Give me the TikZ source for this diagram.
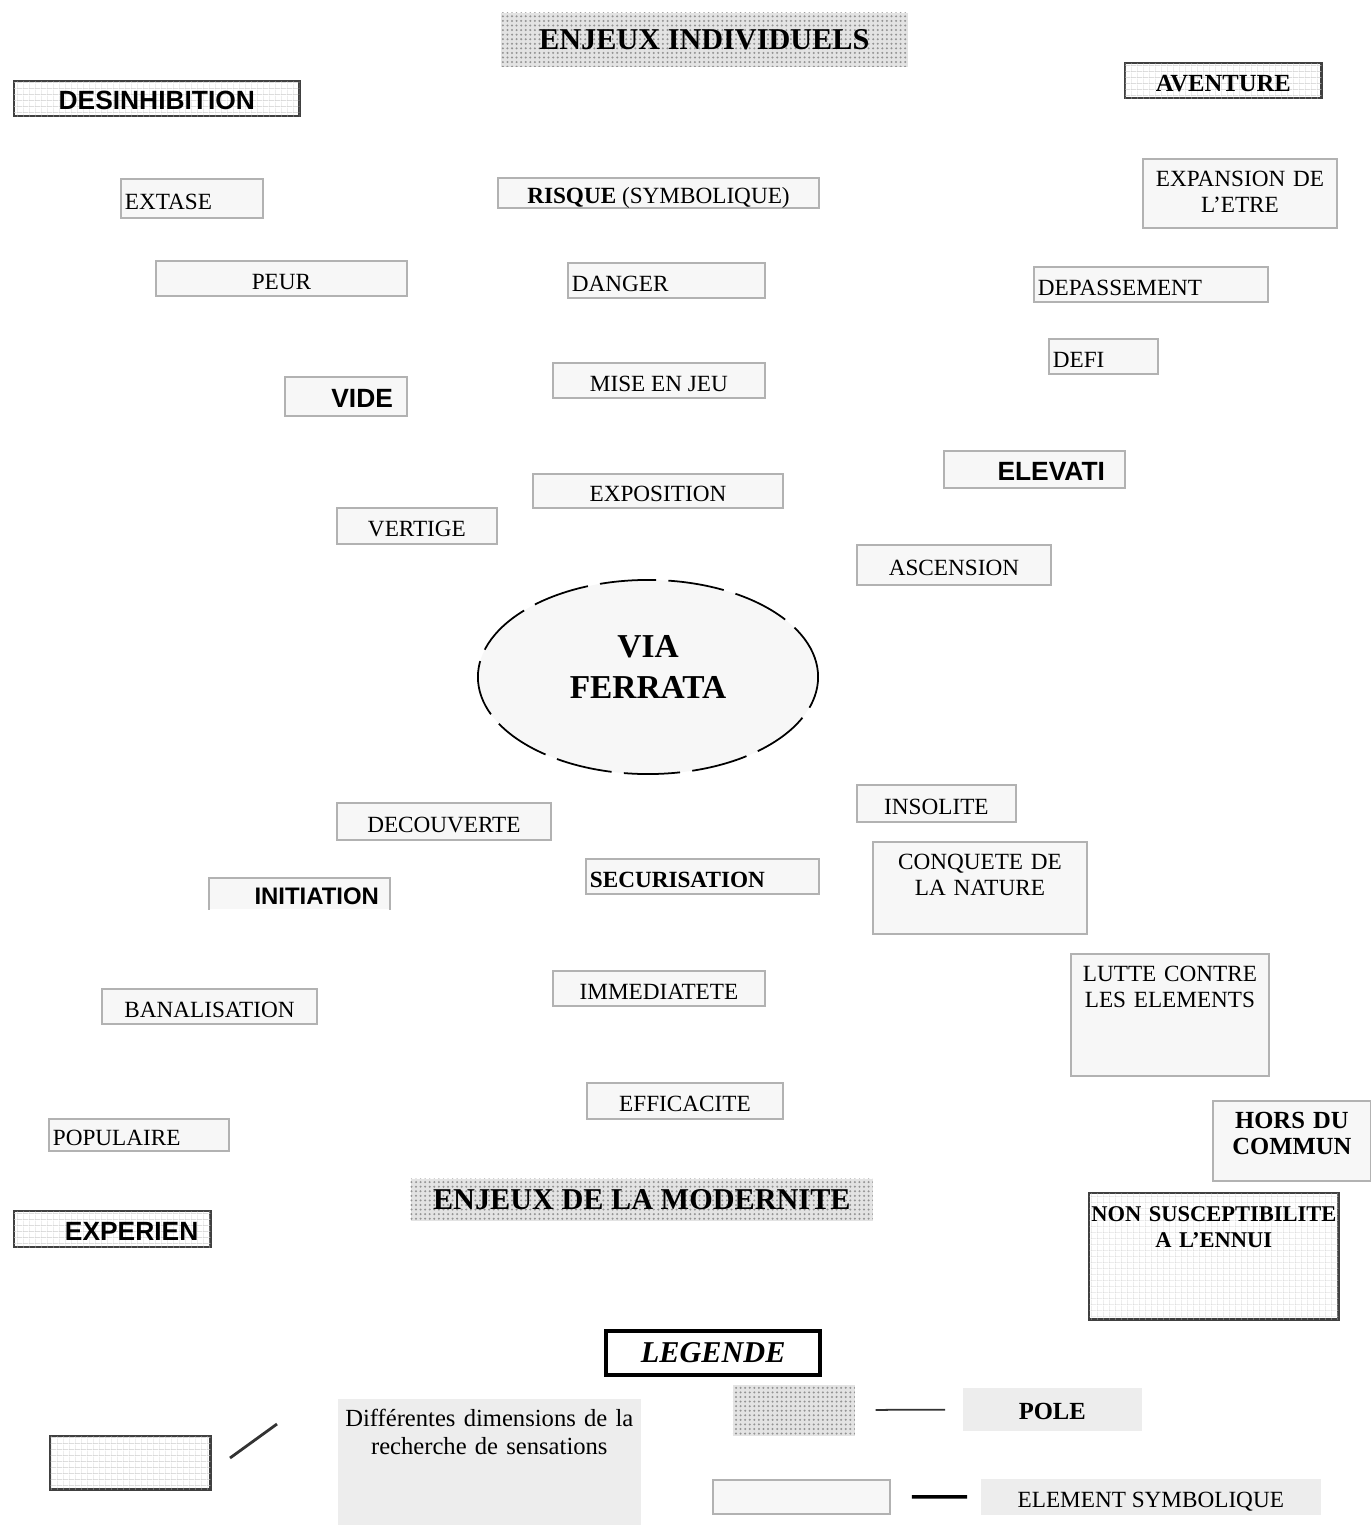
\documentclass[tikz,border=0pt]{standalone}
\usepackage{fontspec}
\setmainfont{Liberation Serif}
\setsansfont{Liberation Sans}
\usetikzlibrary{shapes.geometric,patterns}

\pgfdeclarepatternformonly{finegrid}{\pgfpointorigin}{\pgfpoint{1.6pt}{1.6pt}}{\pgfpoint{1.6pt}{1.6pt}}{%
  \pgfsetlinewidth{0.3pt}%
  \pgfpathmoveto{\pgfpointorigin}\pgfpathlineto{\pgfpoint{0pt}{1.6pt}}%
  \pgfpathmoveto{\pgfpointorigin}\pgfpathlineto{\pgfpoint{1.6pt}{0pt}}%
  \pgfusepath{stroke}}
\pgfdeclarepatternformonly{finedots}{\pgfpoint{-0.4pt}{-0.4pt}}{\pgfpoint{0.4pt}{0.4pt}}{\pgfpoint{1.3pt}{1.3pt}}{%
  \pgfpathcircle{\pgfpointorigin}{0.32pt}%
  \pgfusepath{fill}}

\begin{document}
\begin{tikzpicture}[x=0.01cm,y=-0.01cm,
    elem/.style={draw=gray!60,line width=0.5pt,fill=gray!6,anchor=north west,inner sep=0.04cm,text height=0.214cm,text depth=0pt,font=\fontsize{6.6}{7.4}\selectfont},
    dimen/.style={draw=black!75,line width=0.7pt,fill=white,postaction={pattern=finegrid,pattern color=gray!40},anchor=north west,inner sep=0.04cm,text height=0.22cm,text depth=0pt},
    pole/.style={fill=gray!22,postaction={pattern=finedots,pattern color=gray!85},anchor=north west,inner sep=0},
    tag/.style={fill=gray!14,anchor=north west,inner sep=0.04cm,text height=0.214cm,text depth=0pt,font=\fontsize{6.6}{7.4}\selectfont},
    head/.style={font=\fontsize{8.6}{10}\selectfont\bfseries},
    heavy/.style={font=\fontsize{7.5}{9}\selectfont\sffamily\bfseries},
    topbox/.style={inner ysep=0.06cm,align=center,text depth=#1}]
  \useasboundingbox (0,0) rectangle (1370,1525);

  \node[pole,head,minimum width=4.07cm,minimum height=0.54cm] (indiv) at (500,12) {ENJEUX INDIVIDUELS};
  \node[dimen,heavy,minimum width=2.85cm,minimum height=0.35cm] (desinh) at (13,80) {DESINHIBITION};
  \node[dimen,font=\fontsize{7}{8}\selectfont\bfseries,minimum width=1.96cm,minimum height=0.35cm] (avent) at (1124,62) {AVENTURE};
  \node[elem,text width=1.34cm,align=left,minimum height=0.39cm] (extase) at (120,178) {EXTASE};
  \node[elem,minimum width=3.21cm,minimum height=0.30cm] (risque) at (497,177) {\textbf{RISQUE} (SYMBOLIQUE)};
  \node[elem,minimum width=2.51cm,minimum height=0.35cm] (peur) at (155,260) {PEUR};
  \node[elem,text width=1.89cm,align=left,minimum height=0.35cm] (danger) at (567,262) {DANGER};
  \node[elem,topbox=0.356cm,text width=1.86cm] (expans) at (1142,158) {EXPANSION~DE\\L'ETRE};
  \node[elem,text width=2.26cm,align=left,minimum height=0.35cm] (depass) at (1033,266) {DEPASSEMENT};
  \node[elem,text width=1.01cm,align=left,minimum height=0.35cm] (defi) at (1048,338) {DEFI};
  \node[elem,heavy,inner xsep=0.14cm,text width=0.94cm,align=right,minimum height=0.39cm] (vide) at (284,376) {VIDE};
  \node[elem,minimum width=2.12cm,minimum height=0.35cm] (mise) at (552,362) {MISE EN JEU};
  \node[elem,heavy,inner xsep=0.2cm,text width=1.41cm,align=right,minimum height=0.37cm] (elev) at (943,450) {ELEVATI};
  \node[elem,minimum width=2.5cm,minimum height=0.34cm] (expo) at (532,473) {EXPOSITION};
  \node[elem,minimum width=1.6cm,minimum height=0.36cm] (vert) at (336,507) {VERTIGE};
  \node[elem,minimum width=1.94cm,minimum height=0.4cm] (ascen) at (856,544) {ASCENSION};

  \node[ellipse,draw,line width=0.5pt,dash pattern=on 16pt off 3.5pt,fill=gray!6,minimum width=3.4cm,minimum height=1.94cm,inner sep=0,text width=2cm,align=center,text height=0.22cm,text depth=0.6cm,font=\fontsize{9.5}{11.4}\selectfont\bfseries] (via) at (648,677) {VIA\\FERRATA};

  \node[elem,minimum width=2.14cm,minimum height=0.37cm] (decouv) at (336,802) {DECOUVERTE};
  \node[elem,minimum width=1.59cm,minimum height=0.37cm] (insol) at (856,784) {INSOLITE};
  \node[elem,font=\fontsize{6.6}{7.4}\selectfont\bfseries,text width=2.25cm,align=left,minimum height=0.35cm] (secur) at (585,858) {SECURISATION};
  \node[elem,topbox=0.586cm,text width=2.06cm] (conq) at (872,841) {CONQUETE~DE\\LA~NATURE};
  \node[elem,draw=none,font=\fontsize{6.8}{8}\selectfont\sffamily\bfseries,inner xsep=0.1cm,text width=1.59cm,align=right,minimum height=0.3cm] (init) at (209,878) {INITIATION};
  \draw[gray!60,line width=0.5pt] (init.south west) |- (init.north east) -- (init.south east);
  \node[elem,minimum width=2.12cm,minimum height=0.35cm] (immed) at (552,970) {IMMEDIATETE};
  \node[elem,topbox=0.886cm,text width=1.9cm] (lutte) at (1070,953) {LUTTE~CONTRE\\LES~ELEMENTS};
  \node[elem,minimum width=2.15cm,minimum height=0.35cm] (banal) at (101,988) {BANALISATION};
  \node[elem,minimum width=1.96cm,minimum height=0.36cm] (effic) at (586,1082) {EFFICACITE};
  \node[elem,text width=1.72cm,align=left,minimum height=0.32cm] (popul) at (48,1118) {POPULAIRE};
  \node[elem,topbox=0.466cm,text width=1.5cm,font=\fontsize{7}{7.4}\selectfont\bfseries] (hors) at (1212,1100) {HORS~DU\\COMMUN};
  \node[pole,head,minimum width=4.62cm,minimum height=0.42cm] (modern) at (410,1178) {ENJEUX DE LA MODERNITE};
  \node[dimen,heavy,inner xsep=0.12cm,text width=1.72cm,align=right,minimum height=0.36cm] (experien) at (13,1210) {EXPERIEN};
  \node[dimen,topbox=0.92cm,inner xsep=0.02cm,text width=2.45cm,font=\fontsize{6.4}{7.4}\selectfont\bfseries] (nonsus) at (1088,1192) {\mbox{NON SUSCEPTIBILITE}\\\mbox{A L'ENNUI}};

  \node[draw=black,line width=1.2pt,fill=white,anchor=north west,minimum width=2.14cm,minimum height=0.36cm,font=\fontsize{8.6}{10}\selectfont\bfseries\itshape] (legende) at (604,1329) {LEGENDE};
  \node[dimen,minimum width=1.6cm,minimum height=0.53cm] (legGrid) at (49,1435) {};
  \node[tag,topbox=0.936cm,text width=2.95cm,font=\fontsize{7}{8.2}\selectfont] (legDim) at (337,1398) {Différentes dimensions de~la\\recherche de sensations};
  \node[pole,minimum width=1.22cm,minimum height=0.51cm] (legDots) at (732,1384) {};
  \node[tag,font=\fontsize{7}{8}\selectfont\bfseries,minimum width=1.79cm,minimum height=0.43cm] (legPole) at (962,1387) {POLE};
  \node[elem,minimum width=1.77cm,minimum height=0.34cm] (legElem) at (712,1479) {};
  \node[tag,minimum width=3.4cm,minimum height=0.36cm] (legSym) at (980,1478) {ELEMENT SYMBOLIQUE};

  \coordinate (s1) at (230,1458);
  \coordinate (s2) at (277,1424);
  \begin{scope}[-]
    \draw[gray!40!black,line width=0.8pt] (s1) -- (s2);
    \draw[gray!40!black,line width=0.5pt,shorten <=0.2cm,shorten >=0.17cm] (legDots) -- (legPole);
    \draw[line width=1pt,shorten <=0.21cm,shorten >=0.13cm] (legElem) -- (legSym);
  \end{scope}
\end{tikzpicture}
\end{document}
